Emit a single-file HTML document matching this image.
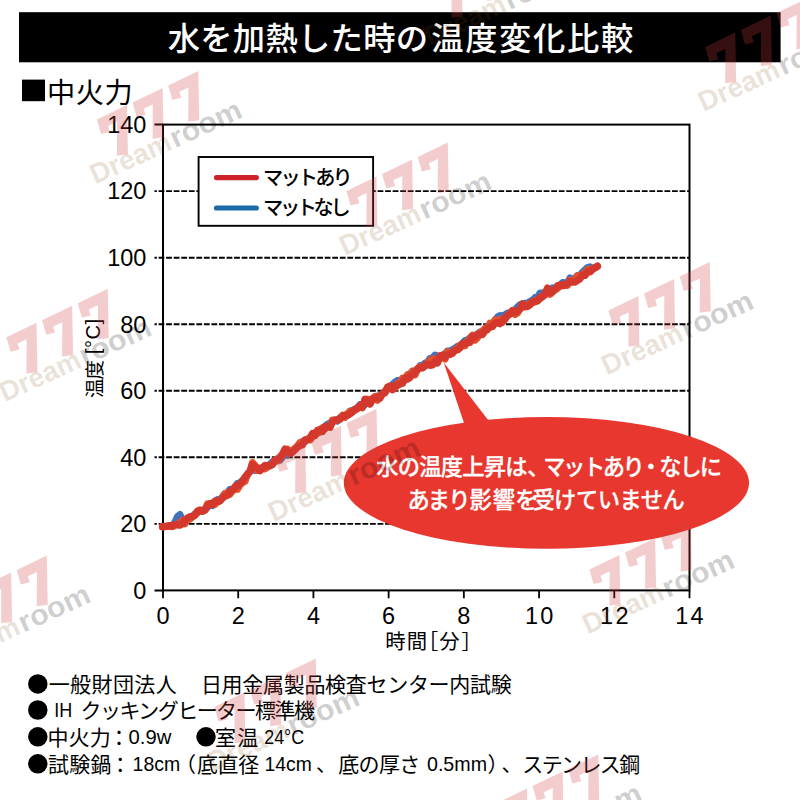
<!DOCTYPE html>
<html lang="ja">
<head>
<meta charset="utf-8">
<title>水を加熱した時の温度変化比較</title>
<style>
html,body{margin:0;padding:0;background:#fff}
body{width:800px;height:800px;overflow:hidden;position:relative;font-family:"Liberation Sans","Noto Sans CJK JP",sans-serif}
svg{position:absolute;left:0;top:0;display:block}
svg text{font-family:"Liberation Sans","Noto Sans CJK JP",sans-serif}
</style>
</head>
<body>
<svg width="800" height="800" viewBox="0 0 800 800" role="img" aria-label="水を加熱した時の温度変化比較 ■中火力">
<defs>
<g id="wm"><g fill="#cf3d3d" fill-opacity=".26" transform="translate(27 -57) rotate(-1)"><path d="M0 0H33.3L13 44.8L2.4 41.4L17.4 10.5H7.3L6.4 16.8L-2.6 15Z"/><path d="M0 0H33.3L13 44.8L2.4 41.4L17.4 10.5H7.3L6.4 16.8L-2.6 15Z" transform="translate(39.5 0)"/><path d="M0 0H33.3L13 44.8L2.4 41.4L17.4 10.5H7.3L6.4 16.8L-2.6 15Z" transform="translate(79 0)"/></g><text x="-1.5" y="1.5" font-size="28" font-weight="700" fill="#7a4a10" fill-opacity=".17" textLength="86" lengthAdjust="spacingAndGlyphs">Dream</text><text x="86" y="1.5" font-size="29" font-weight="700" fill="#000" fill-opacity=".2" textLength="76" lengthAdjust="spacingAndGlyphs">room</text></g>
</defs>
<rect x="19" y="12.2" width="761.6" height="50.1" fill="#000"/>
<g role="img" aria-label="水を加熱した時の温度変化比較" ><title>水を加熱した時の温度変化比較</title>
<text x="167.69" y="50.06" font-size="32.3" font-weight="500" fill="#fff" letter-spacing="0.29">水を加熱した時の</text>
<text x="431.2" y="50.04" font-size="32.3" font-weight="500" fill="#fff" letter-spacing="1.65">温度変化比較</text>
</g>
<g role="img" aria-label="■中火力" ><title>■中火力</title>
<rect x="22" y="79.6" width="23" height="21.6" fill="#000"/>
<text x="47.09" y="102.66" font-size="28.2" font-weight="400" fill="#000" letter-spacing="0.56">中火力</text>
</g>
<g stroke="#000" fill="none">
<line x1="154.5" y1="523.86" x2="689.5" y2="523.86" stroke-width="1.9" stroke-dasharray="5.8 1.75" stroke-dashoffset="3.45"/>
<line x1="154.5" y1="457.31" x2="689.5" y2="457.31" stroke-width="1.9" stroke-dasharray="5.8 1.75" stroke-dashoffset="3.45"/>
<line x1="154.5" y1="390.77" x2="689.5" y2="390.77" stroke-width="1.9" stroke-dasharray="5.8 1.75" stroke-dashoffset="3.45"/>
<line x1="154.5" y1="324.23" x2="689.5" y2="324.23" stroke-width="1.9" stroke-dasharray="5.8 1.75" stroke-dashoffset="3.45"/>
<line x1="154.5" y1="257.69" x2="689.5" y2="257.69" stroke-width="1.9" stroke-dasharray="5.8 1.75" stroke-dashoffset="3.45"/>
<line x1="154.5" y1="191.14" x2="689.5" y2="191.14" stroke-width="1.9" stroke-dasharray="5.8 1.75" stroke-dashoffset="3.45"/>
<rect x="163.0" y="124.6" width="526.5" height="465.8" stroke-width="2"/>
<path d="M154.5 124.6H163.0M154.5 590.4H163.0" stroke-width="2"/>
<path d="M163 590.4V598.2M238.21 590.4V598.2M313.43 590.4V598.2M388.64 590.4V598.2M463.86 590.4V598.2M539.07 590.4V598.2M614.29 590.4V598.2M689.5 590.4V598.2" stroke-width="1.8"/>
</g>
<g class="num">
<text x="146.4" y="598.7" font-size="23.5" text-anchor="end" fill="#000" font-weight="400" >0</text>
<text x="146.4" y="532.16" font-size="23.5" text-anchor="end" fill="#000" font-weight="400" >20</text>
<text x="146.4" y="465.61" font-size="23.5" text-anchor="end" fill="#000" font-weight="400" >40</text>
<text x="146.4" y="399.07" font-size="23.5" text-anchor="end" fill="#000" font-weight="400" >60</text>
<text x="146.4" y="332.53" font-size="23.5" text-anchor="end" fill="#000" font-weight="400" >80</text>
<text x="146.4" y="265.99" font-size="23.5" text-anchor="end" fill="#000" font-weight="400" >100</text>
<text x="146.4" y="199.44" font-size="23.5" text-anchor="end" fill="#000" font-weight="400" >120</text>
<text x="146.4" y="132.9" font-size="23.5" text-anchor="end" fill="#000" font-weight="400" >140</text>
<text x="163" y="623.9" font-size="23.5" text-anchor="middle" fill="#000" font-weight="400" >0</text>
<text x="238.21" y="623.9" font-size="23.5" text-anchor="middle" fill="#000" font-weight="400" >2</text>
<text x="313.43" y="623.9" font-size="23.5" text-anchor="middle" fill="#000" font-weight="400" >4</text>
<text x="388.64" y="623.9" font-size="23.5" text-anchor="middle" fill="#000" font-weight="400" >6</text>
<text x="463.86" y="623.9" font-size="23.5" text-anchor="middle" fill="#000" font-weight="400" >8</text>
<text x="540.17" y="623.9" font-size="23.5" text-anchor="middle" fill="#000" font-weight="400" letter-spacing="2.2">10</text>
<text x="615.39" y="623.9" font-size="23.5" text-anchor="middle" fill="#000" font-weight="400" letter-spacing="2.2">12</text>
<text x="690.6" y="623.9" font-size="23.5" text-anchor="middle" fill="#000" font-weight="400" letter-spacing="2.2">14</text>
</g>
<g role="img" aria-label="温度[℃]" transform="translate(94.6 397.6) rotate(-90)"><title>温度[℃]</title>
<text x="-0.44" y="7.43" font-size="19.6" font-weight="400" fill="#000" letter-spacing="-0.99">温度</text>
<text x="43.4" y="5.3" font-size="20.2" text-anchor="start" fill="#000" font-weight="400" letter-spacing="0.5">[°C]</text>
</g>
<g role="img" aria-label="時間[分]" ><title>時間[分]</title>
<text x="385.15" y="648.75" font-size="20.4" font-weight="400" fill="#000" letter-spacing="1.16">時間</text>
<text x="417.78" y="648.75" font-size="20.4" font-weight="400" fill="#000">［</text>
<text x="439.33" y="648.52" font-size="20.4" font-weight="400" fill="#000">分</text>
<text x="461.51" y="648.75" font-size="20.4" font-weight="400" fill="#000">］</text>
</g>
<rect x="198.6" y="157" width="174.5" height="68.8" fill="#fff" stroke="#000" stroke-width="1.9"/>
<path d="M216.5 177.6H256.3" stroke="#cf2228" stroke-width="5.2" stroke-linecap="round"/>
<path d="M216.5 208H256.3" stroke="#1c69aa" stroke-width="5.2" stroke-linecap="round"/>
<text x="263.04" y="184.84" font-size="20.2" font-weight="500" fill="#000" letter-spacing="-2.82">マットあり</text>
<text x="263.04" y="215.34" font-size="20.2" font-weight="500" fill="#000" letter-spacing="-3.34">マットなし</text>
<g fill="none" stroke-linecap="round" stroke-linejoin="round">
<path d="M162.5 526.6L165 526.34L167.5 526.21L170 526.12L172.5 525.42L175 522.09L177.5 516.42L180 514.49L182.5 520.71L185 522.09L187.5 518.89L190 517.37L192.5 516.31L195 513.83L197.5 512.81L200 510.44L202.5 510.68L205 509.03L207.5 507.31L210 503.57L212.5 505.51L215 501.61L217.5 499.56L220 500.55L222.5 496.52L225 493.44L227.5 492.84L230 489.25L232.5 490.08L235 486.97L237.5 483.26L240 483.5L242.5 480.23L245 479.57L247.5 473.8L250 471.48L252.5 468.11L255 470.61L257.5 470.52L260 468.28L262.5 468.84L265 467.02L267.5 466.72L270 464.14L272.5 461.82L275 459.8L277.5 460.25L280 460.24L282.5 457.12L285 454.67L287.5 455.23L290 452.42L292.5 450.39L295 448.94L297.5 446.83L300 444.57L302.5 441.57L305 441.79L307.5 439.15L310 438.7L312.5 435.72L315 432.56L317.5 432.37L320 432.19L322.5 428.46L325 426.23L327.5 424.15L330 423.01L332.5 421.98L335 419.77L337.5 421.09L340 417.81L342.5 416.41L345 415.9L347.5 414.57L350 411.21L352.5 410.47L355 409.51L357.5 407.6L360 404.63L362.5 405.87L365 404.62L367.5 402.43L370 399.64L372.5 398.63L375 396.91L377.5 395.89L380 395.46L382.5 393.98L385 391.53L387.5 389.62L390 388.09L392.5 384.54L395 382.09L397.5 380.37L400 380.69L402.5 381.36L405 378.95L407.5 375.79L410 373.78L412.5 371.3L415 370.86L417.5 369.47L420 365.58L422.5 365.81L425 362.99L427.5 362.62L430 358.4L432.5 357.9L435 355.05L437.5 356.06L440 357.08L442.5 356.4L445 354.01L447.5 350.93L450 350.87L452.5 349.52L455 348.2L457.5 346.21L460 347L462.5 343.41L465 340.51L467.5 339.73L470 337.78L472.5 335.67L475 335.24L477.5 334.11L480 331.96L482.5 331.11L485 328.91L487.5 326.37L490 325.36L492.5 323.28L495 320.41L497.5 317L500 315.46L502.5 316.79L505 314.58L507.5 312.99L510 313.61L512.5 310.89L515 310.14L517.5 306.85L520 304.79L522.5 303.65L525 303.32L527.5 303.22L530 301.45L532.5 300.27L535 297.53L537.5 297.31L540 293.06L542.5 292.98L545 292.4L547.5 291.54L550 291.81L552.5 287.82L555 288.75L557.5 287.61L560 286.12L562.5 282.49L565 282.67L567.5 282.66L570 277.94L572.5 278.88L575 278.51L577.5 275.48L580 275.21L582.5 272.12L585 269.9L587.5 267.56L590 266.8L592.5 269.1L597.4 266.2" stroke="#4472b8" stroke-width="7"/>
<path d="M162.5 526.6L165 526.36L167.5 526.01L170 526.49L172.5 526.62L175 524.63L177.5 524.98L180 522.54L182.5 520.63L185 523.71L187.5 518.23L190 519.04L192.5 516.82L195 515L197.5 511.77L200 510.17L202.5 511.36L205 510.09L207.5 503.85L210 503.8L212.5 502.9L215 504.24L217.5 502.12L220 500.28L222.5 497.72L225 493.76L227.5 492.72L230 494.08L232.5 490.79L235 486.65L237.5 489.14L240 485.01L242.5 482.45L245 481.18L247.5 474.09L250 471.21L252.5 462.56L255 465.32L257.5 470.38L260 468.99L262.5 467.82L265 468.91L267.5 467.14L270 465.63L272.5 463.39L275 461.35L277.5 460.97L280 457.67L282.5 455.58L285 450.14L287.5 449.26L290 451.75L292.5 450.76L295 448.26L297.5 446.16L300 442.56L302.5 444.03L305 440.09L307.5 439.5L310 440.11L312.5 436.87L315 433.02L317.5 433.32L320 429.53L322.5 427.85L325 429.01L327.5 426.86L330 427.09L332.5 420.07L335 420.24L337.5 419.68L340 419.49L342.5 415.3L345 417.2L347.5 413.81L350 411.37L352.5 411.11L355 410.1L357.5 408.56L360 405.95L362.5 405.23L365 401.3L367.5 399.26L370 403.68L372.5 398.63L375 396.46L377.5 400.26L380 395.95L382.5 393.99L385 391.33L387.5 388.55L390 386.75L392.5 387.95L395 388.2L397.5 383.58L400 383.04L402.5 378.19L405 379.79L407.5 374.74L410 377.71L412.5 371.16L415 374.7L417.5 369.46L420 366.85L422.5 367.58L425 366.01L427.5 362.82L430 360.8L432.5 358.83L435 359.8L437.5 360.38L440 355.76L442.5 357.45L445 359.06L447.5 351.61L450 354.36L452.5 353.23L455 349.46L457.5 349.23L460 345.2L462.5 346.01L465 345.61L467.5 341.18L470 338.82L472.5 335.37L475 340.18L477.5 337.69L480 332.45L482.5 331.22L485 328.41L487.5 329.83L490 323.25L492.5 325.09L495 320.01L497.5 322.49L500 319.2L502.5 322.1L505 319.4L507.5 315.47L510 313.31L512.5 310.89L515 314.38L517.5 312.84L520 308.88L522.5 303.93L525 307L527.5 305.11L530 302.98L532.5 302.67L535 301.9L537.5 299.3L540 298.66L542.5 296.15L545 294.75L547.5 288.9L550 294.29L552.5 292.02L555 289.85L557.5 288.33L560 286.17L562.5 285.18L565 285.5L567.5 285.3L570 280.12L572.5 280.74L575 279.57L577.5 275.63L580 276.65L582.5 274.75L585 272.57L587.5 269.97L590 269.01L592.5 269.1L597.4 266.2" stroke="#e2512b" stroke-width="7.2"/>
<path d="M162.5 526.8L165 526.56L167.5 526.34L170 525.49L172.5 525.93L175 524.92L177.5 524.38L180 525.25L182.5 523.71L185 520.33L187.5 518.09L190 516.68L192.5 516.58L195 515.2L197.5 511.12L200 510.08L202.5 511.15L205 509.95L207.5 506.1L210 503.8L212.5 504.45L215 501.07L217.5 501.59L220 500.99L222.5 498.03L225 496.1L227.5 495.33L230 491.33L232.5 490.04L235 487.66L237.5 485.56L240 483.59L242.5 481.25L245 477.05L247.5 474.52L250 471.55L252.5 464.75L255 467.35L257.5 467.86L260 470.73L262.5 467.7L265 465.26L267.5 465.69L270 465.44L272.5 464.7L275 459.9L277.5 458.91L280 457.2L282.5 453.88L285 449.1L287.5 451.37L290 453.42L292.5 452.17L295 449.7L297.5 447.13L300 445.66L302.5 444.83L305 440.08L307.5 439.37L310 437.81L312.5 433.47L315 435.45L317.5 430.42L320 430.17L322.5 431.51L325 426.84L327.5 426.29L330 427.25L332.5 421.86L335 420.7L337.5 420.02L340 418.27L342.5 417.01L345 415.12L347.5 415.42L350 413.96L352.5 411.87L355 409.03L357.5 408.08L360 405.62L362.5 407.6L365 399.1L367.5 401.21L370 404.03L372.5 399.13L375 398.29L377.5 397.43L380 398.19L382.5 393.72L385 392.92L387.5 387.14L390 386.01L392.5 389.75L395 385.32L397.5 385.37L400 384.01L402.5 383.28L405 378.29L407.5 379.13L410 376.18L412.5 374.79L415 372.18L417.5 368.65L420 368.12L422.5 367.84L425 365.4L427.5 364.04L430 365.45L432.5 364.97L435 361.19L437.5 362.92L440 356.69L442.5 355.01L445 357.24L447.5 354.57L450 354.08L452.5 353.04L455 350.54L457.5 349.89L460 347.85L462.5 343.49L465 343.7L467.5 342.17L470 342.31L472.5 336.5L475 337.12L477.5 334.45L480 333.6L482.5 334.62L485 330.77L487.5 328.19L490 327.16L492.5 326.57L495 323.16L497.5 322.69L500 323.81L502.5 321.23L505 318.27L507.5 315.35L510 314.16L512.5 310.56L515 312.32L517.5 310.7L520 309.17L522.5 304.14L525 306.14L527.5 306.55L530 304.86L532.5 301.66L535 301.32L537.5 301.03L540 297.58L542.5 296.73L545 294.06L547.5 288.07L550 292.89L552.5 291.28L555 289.23L557.5 285.72L560 284.92L562.5 285.66L565 283.99L567.5 283.84L570 281.56L572.5 282.13L575 282.14L577.5 280.31L580 278.83L582.5 275.09L585 275.5L587.5 271.57L590 271.95L592.5 269.3L597.4 266.4" stroke="#d4382d" stroke-width="7.2"/>
</g>
<g fill="#e7372e">
<ellipse cx="546.4" cy="482.9" rx="202.6" ry="65.9"/>
<path d="M443.7 362.4L469.7 440L497.4 432Z"/>
</g>
<g role="img" aria-label="水の温度上昇は、マットあり・なしに" font-size="22.3" font-weight="500" fill="#fff" stroke="#fff" stroke-width="0.29" stroke-linejoin="round"><title>水の温度上昇は、マットあり・なしに</title>
<text x="376.24" y="475.44" letter-spacing="-0.8">水の温度上昇は</text>
<text x="527.15" y="475.41">、</text>
<text x="543.34" y="474.99" letter-spacing="-2.51">マットあり</text>
<text x="639.84" y="475.47">・</text>
<text x="659.19" y="475.4" letter-spacing="-2.07">なしに</text>
</g>
<g role="img" aria-label="あまり影響を受けていません" font-size="22.3" font-weight="500" fill="#fff" stroke="#fff" stroke-width="0.29" stroke-linejoin="round"><title>あまり影響を受けていません</title>
<text x="407.55" y="507.98" letter-spacing="-1.98">あまり</text>
<text x="469.56" y="508.19" letter-spacing="1.03">影響</text>
<text x="515.33" y="508.3" letter-spacing="-5.16">を受</text>
<text x="554.09" y="507.88" letter-spacing="-0.49">けていません</text>
</g>
<g role="img" aria-label="●一般財団法人　日用金属製品検査センター内試験" ><title>●一般財団法人　日用金属製品検査センター内試験</title>
<circle cx="37.8" cy="683.9" r="9.75"/>
<text x="48.68" y="691.86" font-size="21" font-weight="400" fill="#000" letter-spacing="0.42">一般財団法人</text>
<text x="200.9" y="691.84" font-size="21" font-weight="400" fill="#000" letter-spacing="-0.3">日用金属製品検査センター内試験</text>
</g>
<g role="img" aria-label="●IH クッキングヒーター標準機" ><title>●IH クッキングヒーター標準機</title>
<circle cx="37.8" cy="710" r="9.75"/>
<text x="54.2" y="717.2" font-size="20.4" text-anchor="start" fill="#000" font-weight="400" lengthAdjust="spacingAndGlyphs" textLength="18">IH</text>
<text x="80.52" y="718.01" font-size="21" font-weight="400" fill="#000" letter-spacing="-1.54">クッキングヒーター標準機</text>
</g>
<g role="img" aria-label="●中火力：0.9w　●室温 24℃" ><title>●中火力：0.9w　●室温 24℃</title>
<circle cx="37.8" cy="736.8" r="9.75"/>
<text x="47.58" y="744.74" font-size="21" font-weight="400" fill="#000" letter-spacing="0.08">中火力</text>
<text x="108.5" y="744.65" font-size="21" font-weight="400" fill="#000">：</text>
<text x="128.6" y="744" font-size="20.4" text-anchor="start" fill="#000" font-weight="400" lengthAdjust="spacingAndGlyphs" textLength="42.8">0.9w</text>
<circle cx="206.0" cy="736.8" r="9.75"/>
<text x="214.96" y="744.96" font-size="21" font-weight="400" fill="#000" letter-spacing="1.24">室温</text>
<text x="264.2" y="744" font-size="20.4" text-anchor="start" fill="#000" font-weight="400" lengthAdjust="spacingAndGlyphs" textLength="40">24°C</text>
</g>
<g role="img" aria-label="●試験鍋：18cm（底直径 14cm、底の厚さ 0.5mm）、ステンレス鋼" ><title>●試験鍋：18cm（底直径 14cm、底の厚さ 0.5mm）、ステンレス鋼</title>
<circle cx="37.8" cy="763.8" r="9.75"/>
<text x="48.1" y="771.77" font-size="21" font-weight="400" fill="#000" letter-spacing="0.18">試験鍋</text>
<text x="109.7" y="771.65" font-size="21" font-weight="400" fill="#000">：</text>
<text x="132.6" y="771" font-size="20.4" text-anchor="start" fill="#000" font-weight="400" lengthAdjust="spacingAndGlyphs" textLength="47.6">18cm</text>
<text x="174.91" y="771.78" font-size="21" font-weight="400" fill="#000">（</text>
<text x="196.95" y="771.78" font-size="21" font-weight="400" fill="#000" letter-spacing="-0.39">底直径</text>
<text x="264.6" y="771" font-size="20.4" text-anchor="start" fill="#000" font-weight="400" lengthAdjust="spacingAndGlyphs" textLength="47.2">14cm</text>
<text x="315.91" y="771.06" font-size="21" font-weight="400" fill="#000">、</text>
<text x="338.15" y="771.75" font-size="21" font-weight="400" fill="#000" letter-spacing="-0.62">底の厚さ</text>
<text x="427" y="771" font-size="20.4" text-anchor="start" fill="#000" font-weight="400" lengthAdjust="spacingAndGlyphs" textLength="60">0.5mm</text>
<text x="487.53" y="771.78" font-size="21" font-weight="400" fill="#000">）</text>
<text x="501.41" y="771.06" font-size="21" font-weight="400" fill="#000">、</text>
<text x="522.3" y="771.78" font-size="21" font-weight="400" fill="#000" letter-spacing="-1.63">ステンレス鋼</text>
</g>
<g class="wm" aria-hidden="true">
<use href="#wm" transform="translate(430.5 44.5) rotate(-24.5)"/>
<use href="#wm" transform="translate(704.25 110) rotate(-24.5)"/>
<use href="#wm" transform="translate(96 182.5) rotate(-24.5)"/>
<use href="#wm" transform="translate(345.5 254) rotate(-24.5)"/>
<use href="#wm" transform="translate(5.5 400.25) rotate(-24.5)"/>
<use href="#wm" transform="translate(607.5 373.5) rotate(-24.5)"/>
<use href="#wm" transform="translate(274.25 520.25) rotate(-24.5)"/>
<use href="#wm" transform="translate(-55.5 667) rotate(-24.5)"/>
<use href="#wm" transform="translate(588.5 632.5) rotate(-24.5)"/>
<use href="#wm" transform="translate(213.5 770) rotate(-24.5)"/>
<use href="#wm" transform="translate(496 866) rotate(-24.5)"/>
</g>
</svg>
</body>
</html>
